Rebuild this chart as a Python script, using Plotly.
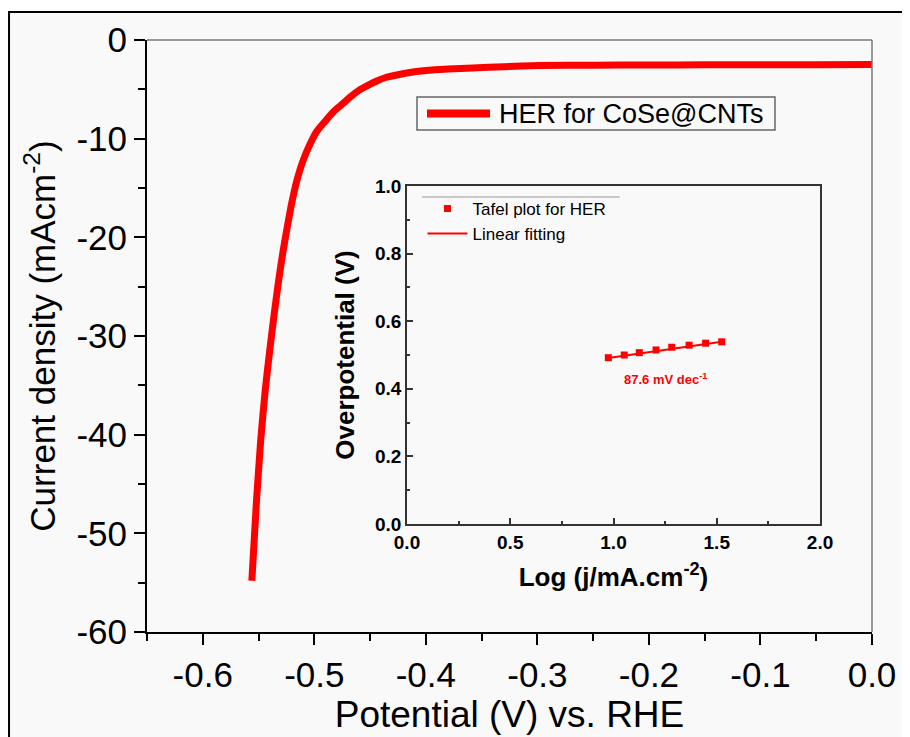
import plotly.graph_objects as go

# HER polarization curve (potential vs RHE, current density)
potential = [-0.556, -0.552, -0.548, -0.544, -0.540, -0.536, -0.532, -0.528, -0.524,
             -0.520, -0.516, -0.510, -0.504, -0.498, -0.490, -0.483, -0.476, -0.468,
             -0.460, -0.452, -0.444, -0.436, -0.426, -0.417, -0.400, -0.380, -0.358,
             -0.330, -0.298, -0.250, -0.200, -0.150, -0.100, -0.050, 0.0]
current = [-54.8, -47.0, -40.5, -35.5, -31.5, -27.8, -24.4, -21.4, -18.8,
           -16.4, -14.4, -12.2, -10.6, -9.3, -8.2, -7.3, -6.6, -5.8,
           -5.1, -4.6, -4.15, -3.8, -3.55, -3.35, -3.10, -2.95, -2.84,
           -2.70, -2.58, -2.55, -2.53, -2.52, -2.51, -2.50, -2.48]

x_ticks = [-0.6, -0.5, -0.4, -0.3, -0.2, -0.1, 0.0]
x_labels = ["-0.6", "-0.5", "-0.4", "-0.3", "-0.2", "-0.1", "0.0"]
y_ticks = [0, -10, -20, -30, -40, -50, -60]
y_labels = ["0", "-10", "-20", "-30", "-40", "-50", "-60"]

# Tafel plot (inset)
tafel_log_j = [0.975, 1.052, 1.125, 1.206, 1.282, 1.366, 1.446, 1.524]
tafel_eta = [0.492, 0.500, 0.507, 0.515, 0.523, 0.529, 0.535, 0.539]
fit_log_j = [0.975, 1.524]
fit_eta = [0.491, 0.539]

inset_x_ticks = [0.0, 0.5, 1.0, 1.5, 2.0]
inset_y_ticks = [0.0, 0.2, 0.4, 0.6, 0.8, 1.0]

font_main = "Liberation Sans, Arial, sans-serif"

fig = go.Figure()

fig.add_trace(go.Scatter(
    x=potential, y=current, mode="lines", name="HER for CoSe@CNTs",
    line=dict(color="#ff0000", width=7, shape="spline", smoothing=0.6),
    xaxis="x", yaxis="y", showlegend=False))

fig.add_trace(go.Scatter(
    x=tafel_log_j, y=tafel_eta, mode="markers", name="Tafel plot for HER",
    marker=dict(symbol="square", size=7, color="#ff0000"), xaxis="x2", yaxis="y2",
    legend="legend2", showlegend=True))
fig.add_trace(go.Scatter(
    x=fit_log_j, y=fit_eta, mode="lines", name="Linear fitting",
    line=dict(color="#ff0000", width=2), xaxis="x2", yaxis="y2", legend="legend2",
    showlegend=True))

fig.add_annotation(x=1.25, y=0.43, xref="x2", yref="y2", showarrow=False,
                   text="<b>87.6 mV dec<sup>-1</sup></b>",
                   font=dict(family=font_main, size=13, color="#ff0000"))

# legend box of the main curve
fig.add_annotation(x=0.4828, y=0.8758, xref="paper", yref="paper", showarrow=False,
                   xanchor="left", yanchor="middle", text="HER for CoSe@CNTs",
                   font=dict(family=font_main, size=27, color="black"))

main_axis = dict(showgrid=False, zeroline=False, showline=True, linecolor="black",
                 linewidth=2, ticks="outside", ticklen=11, tickwidth=2, tickcolor="black",
                 tickfont=dict(family=font_main, size=35, color="black"))

inset_axis = dict(showgrid=False, zeroline=False, showline=True, linecolor="#333333",
                  linewidth=1.5, mirror=True, ticks="inside", ticklen=6, tickwidth=1.5,
                  tickcolor="#333333",
                  tickfont=dict(family=font_main, size=19, color="black"))

fig.update_layout(
    width=910, height=737,
    margin=dict(l=139, r=46, t=32, b=113),
    paper_bgcolor="white", plot_bgcolor="#f9f9f9",
    font=dict(family=font_main, color="black"),
    showlegend=True,
    xaxis=dict(**main_axis, range=[-0.65, 0.0], tickvals=x_ticks, ticktext=x_labels,
               minor=dict(dtick=0.05, tick0=-0.65, ticks="outside", ticklen=7,
                          tickwidth=1.5, tickcolor="black"),
               title=dict(text="Potential (V) vs. RHE", standoff=4,
                          font=dict(family=font_main, size=37))),
    yaxis=dict(**main_axis, range=[-60, 0], tickvals=y_ticks, ticktext=y_labels,
               minor=dict(dtick=5, ticks="outside", ticklen=7, tickwidth=1.5,
                          tickcolor="black"),
               title=dict(text="Current density (mAcm<sup>-2</sup>)", standoff=10,
                          font=dict(family=font_main, size=35))),
    xaxis2=dict(**inset_axis, domain=[0.3586, 0.9283], anchor="y2", range=[0, 2.0],
                tickvals=inset_x_ticks,
                ticktext=["<b>%.1f</b>" % v for v in inset_x_ticks],
                minor=dict(dtick=0.25, ticks="inside", ticklen=3, tickcolor="#333333"),
                title=dict(text="<b>Log (j/mA.cm<sup>-2</sup>)</b>", standoff=16,
                           font=dict(family=font_main, size=26))),
    yaxis2=dict(**inset_axis, domain=[0.1824, 0.7534], anchor="x2", range=[0, 1.0],
                tickvals=inset_y_ticks,
                ticktext=["<b>%.1f</b>" % v for v in inset_y_ticks],
                minor=dict(dtick=0.1, ticks="inside", ticklen=3, tickcolor="#333333"),
                title=dict(text="<b>Overpotential (V)</b>", standoff=13,
                           font=dict(family=font_main, size=26))),
    legend2=dict(x=0.38, y=0.745, xanchor="left", yanchor="top",
                 bgcolor="rgba(0,0,0,0)", borderwidth=0,
                 font=dict(family=font_main, size=17, color="black"),
                 tracegroupgap=0, itemwidth=40),
    shapes=[
        # outer frame of the figure
        dict(type="rect", xref="paper", yref="paper", x0=-0.1903, x1=1.1, y0=-0.25, y1=1.0473,
             line=dict(color="black", width=2), fillcolor="#f9f9f9", layer="below"),
        # thin grey top/right border of the main plot
        dict(type="line", xref="paper", yref="paper", x0=0, x1=1, y0=1, y1=1,
             line=dict(color="#777777", width=1.5)),
        dict(type="line", xref="paper", yref="paper", x0=1, x1=1, y0=0, y1=1,
             line=dict(color="#777777", width=1.5)),
        # main legend frame and key
        dict(type="rect", xref="paper", yref="paper", x0=0.3724, x1=0.8662,
             y0=0.848, y1=0.9037, line=dict(color="#666666", width=1.5),
             fillcolor="#f9f9f9"),
        dict(type="line", xref="paper", yref="paper", x0=0.3862, x1=0.4731,
             y0=0.8758, y1=0.8758, line=dict(color="#ff0000", width=8)),
        # thin line above the inset legend
        dict(type="line", xref="paper", yref="paper", x0=0.3793, x1=0.652,
             y0=0.7348, y1=0.7348, line=dict(color="#999999", width=1)),
    ],
)

fig.write_html("out.html")
